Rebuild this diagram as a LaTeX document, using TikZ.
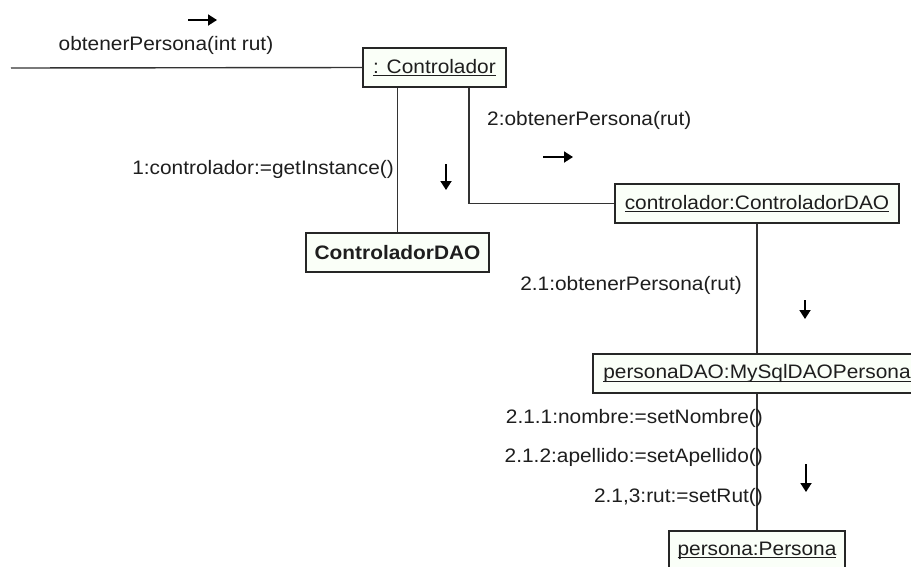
\documentclass[tikz,border=0pt]{standalone}
\usepackage{fontspec}
\setmainfont[FakeStretch=1.07]{Liberation Sans}
\usetikzlibrary{arrows.meta}

\definecolor{objfill}{RGB}{250,255,248}
\definecolor{ink}{RGB}{30,30,30}

% underline drawn at a fixed depth under the baseline
\newcommand{\objname}[1]{\setbox0\hbox{#1}\rlap{\rule[-3pt]{\wd0}{1pt}}\box0}

\begin{document}
\begin{tikzpicture}[
  x=1pt,y=-1pt,
  >={Triangle[length=9pt,width=11pt]},
  obj/.style={draw=black!85, fill=objfill, line width=1.4pt, minimum height=39pt, inner sep=0pt, text=ink, font=\fontsize{19.5}{22}\selectfont},
  link/.style={line width=1.4pt, draw=black!80},
  msg/.style={font=\fontsize{19.5}{22}\selectfont, text=ink, inner sep=0pt},
  dir/.style={->, line width=1.8pt, draw=black}
]
\useasboundingbox (0,0) rectangle (911,566);
\clip (0,0) rectangle (911,566);
\fill[white] (0,0) rectangle (911,566);

% Coordinates
\coordinate (start) at (11,68);
\coordinate (bend) at (469,203.5);

% Objects
\node[obj, minimum width=143pt] (ctrl) at (434.5,67.5) {\objname{: Controlador}};
\node[obj, minimum width=183pt, font=\fontsize{19.5}{22}\selectfont\bfseries] (dao) at (397.5,252.5) {ControladorDAO};
\node[obj, minimum width=284pt] (ctrldao) at (757,203.5) {\objname{controlador:ControladorDAO}};
\node[obj, minimum width=328pt] (pdao) at (757,373.5) {\objname{personaDAO:MySqlDAOPersona}};
\node[obj, minimum width=176pt] (persona) at (757,550.5) {\objname{persona:Persona}};

% Links
\draw[link] (start) -- (ctrl.west);
\draw[link] (ctrl.south -| dao.north) -- (dao.north);
\draw[link] (ctrl.south -| bend) -- (bend) -- (ctrldao.west);
\draw[link] (ctrldao.south) -- (pdao.north);
\draw[link] (pdao.south) -- (persona.north);

% Messages
\node[msg] (m0) at (166,45) {obtenerPersona(int rut)};
\node[msg, anchor=east] (m1) at (394,169) {1:controlador:=getInstance()};
\node[msg, anchor=west] (m2) at (487,120) {2:obtenerPersona(rut)};
\node[msg, anchor=east] (m21) at (742,285) {2.1:obtenerPersona(rut)};
\node[msg, anchor=east] (m211) at (763,418) {2.1.1:nombre:=setNombre()};
\node[msg, anchor=east] (m212) at (763,457) {2.1.2:apellido:=setApellido()};
\node[msg, anchor=east] (m213) at (763,497) {2.1,3:rut:=setRut()};

% Direction arrows
\draw[dir] (188,20) -- (217,20);
\draw[dir] (446,164) -- (446,190);
\draw[dir] (543,157) -- (573,157);
\draw[dir] (805,300) -- (805,319);
\draw[dir] (806,464) -- (806,492);

\end{tikzpicture}
\end{document}
